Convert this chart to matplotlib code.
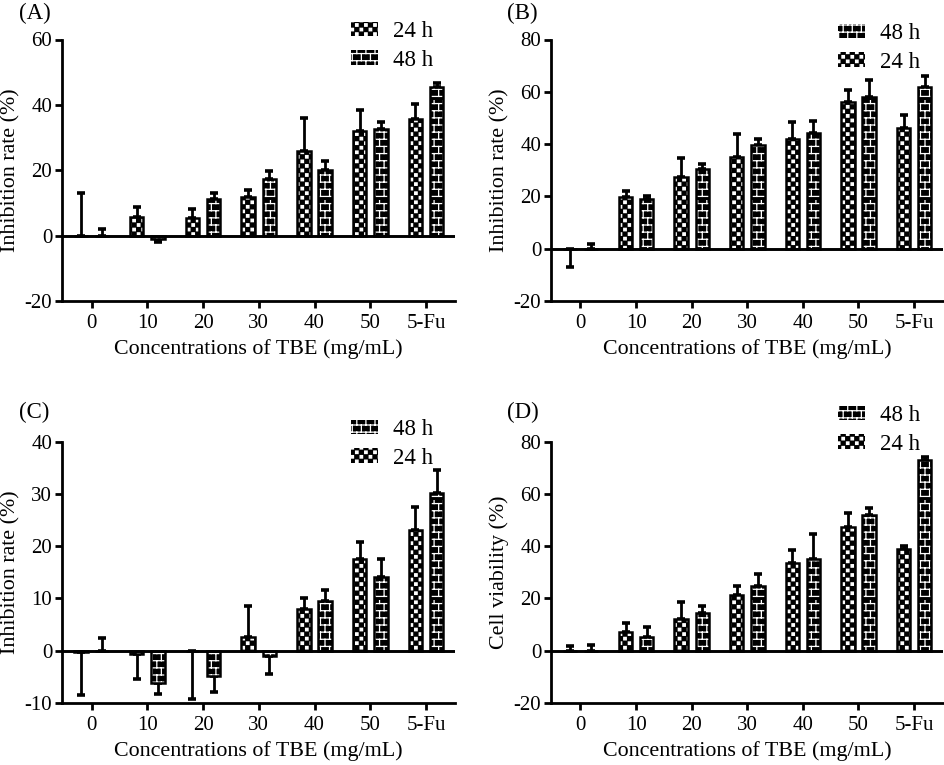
import warnings
warnings.filterwarnings('ignore')
import matplotlib
matplotlib.use('Agg')
import numpy as np
import matplotlib.pyplot as plt
import matplotlib.hatch as mhatch
from matplotlib.path import Path

# ---------------- data ----------------
categories = ['0', '10', '20', '30', '40', '50', '5-Fu']

A_24 = [0.0, 5.8, 5.5, 11.9, 26.0, 31.9, 35.6]
A_24_err = [12.9, 2.9, 2.7, 2.0, 10.0, 6.5, 4.6]
A_48 = [0.0, -1.1, 11.1, 17.2, 20.2, 32.5, 45.4]
A_48_err = [2.1, 0.7, 1.8, 2.6, 2.5, 2.3, 1.2]

B_24 = [-0.3, 19.6, 27.3, 35.2, 41.8, 56.2, 46.0]
B_24_err = [6.7, 2.4, 7.3, 8.7, 6.6, 4.6, 5.0]
B_48 = [0.0, 19.1, 30.4, 39.5, 44.3, 58.0, 61.8]
B_48_err = [1.9, 0.9, 1.8, 2.4, 4.4, 6.5, 4.4]

C_24 = [-0.2, -0.7, -0.1, 2.5, 8.0, 17.5, 23.1]
C_24_err = [8.3, 4.7, 9.2, 6.1, 2.0, 3.3, 4.3]
C_48 = [0.0, -6.3, -4.9, -1.1, 9.5, 14.1, 30.1]
C_48_err = [2.3, 2.1, 3.0, 3.4, 2.1, 3.4, 4.4]

D_24 = [0.0, 6.9, 12.1, 21.2, 33.6, 47.5, 38.8]
D_24_err = [1.9, 3.8, 6.3, 3.6, 4.8, 5.1, 1.4]
D_48 = [0.0, 5.2, 14.2, 24.6, 35.0, 52.0, 73.1]
D_48_err = [2.2, 3.9, 2.9, 4.6, 9.6, 2.7, 1.2]

series_labels = ['24 h', '48 h']
xlabel_text = 'Concentrations of TBE (mg/mL)'


# ---------------- custom hatches ----------------
class CheckerHatch(mhatch.HatchPatternBase):
    N = 22

    def __init__(self, hatch, density):
        self.on = 'C' in hatch
        n = self.N
        self.cells = [(i, j) for i in range(n) for j in range(n) if (i + j) % 2 == 0]
        self.num_vertices = 5 * len(self.cells) if self.on else 0
        self.filled = True

    def set_vertices_and_codes(self, vertices, codes):
        n = self.N
        s = 0.0125
        k = 0
        for (i, j) in self.cells:
            cx = (i + 0.5) / n
            cy = (j + 0.5) / n
            vertices[k:k + 5] = [(cx - s, cy - s), (cx + s, cy - s), (cx + s, cy + s),
                                 (cx - s, cy + s), (cx - s, cy - s)]
            codes[k:k + 5] = [Path.MOVETO, Path.LINETO, Path.LINETO, Path.LINETO, Path.CLOSEPOLY]
            k += 5


class BrickHatch(mhatch.HatchPatternBase):
    R = 14
    K = 11

    def __init__(self, hatch, density):
        self.on = 'B' in hatch
        self.num_vertices = (2 * self.R + 2 * self.R * self.K) if self.on else 0
        self.filled = False

    def set_vertices_and_codes(self, vertices, codes):
        R, K = self.R, self.K
        k = 0
        for r in range(R):
            y = (r + 0.5) / R
            vertices[k:k + 2] = [(0.0, y), (1.0, y)]
            codes[k:k + 2] = [Path.MOVETO, Path.LINETO]
            k += 2
        for r in range(R):
            y0 = (r + 0.5) / R
            y1 = (r + 1.5) / R
            for j in range(K):
                xx = (j + 0.25 + 0.5 * (r % 2)) / K
                vertices[k:k + 2] = [(xx, y0), (xx, y1)]
                codes[k:k + 2] = [Path.MOVETO, Path.LINETO]
                k += 2


mhatch._hatch_types.append(CheckerHatch)
mhatch._hatch_types.append(BrickHatch)

plt.rcParams['font.family'] = ['Liberation Serif', 'DejaVu Serif']
plt.rcParams['axes.unicode_minus'] = False
plt.rcParams['hatch.linewidth'] = 0.9

W, H = 945, 765
fig = plt.figure(figsize=(W / 100, H / 100), dpi=100)


def px_axes(left, top, right, bottom):
    return fig.add_axes([left / W, 1 - bottom / H, (right - left) / W, (bottom - top) / H])


def panel(ax, v24, e24, v48, e48, ylim, yticks, ylabel, order, letter, letter_xy, leg_xy):
    x = np.arange(len(categories))
    handles = {}
    for vals, errs, off, hatch, lab in [(v24, e24, -0.19, 'C', series_labels[0]),
                                        (v48, e48, 0.19, 'B', series_labels[1])]:
        vals = np.array(vals, dtype=float)
        errs = np.array(errs, dtype=float)
        b = ax.bar(x + off, vals, width=0.24, color='black', edgecolor='white',
                   linewidth=0, hatch=hatch, label=lab, zorder=2)
        ax.bar(x + off, vals, width=0.24, fill=False, edgecolor='black',
               linewidth=1.8, zorder=3)
        lower = np.where(vals < 0, errs, 0)
        upper = np.where(vals >= 0, errs, 0)
        ax.errorbar(x + off, vals, yerr=[lower, upper], fmt='none', ecolor='black',
                    elinewidth=2.0, capsize=2.9, capthick=2.6, zorder=1)
        handles[lab] = b
    ax.axhline(0, color='black', lw=2.1, zorder=4)
    ax.set_xlim(-0.53, 6.52)
    ax.set_ylim(*ylim)
    ax.set_yticks(yticks)
    ax.set_xticks(x)
    ax.set_xticklabels(categories)
    for s in ['top', 'right']:
        ax.spines[s].set_visible(False)
    for s in ['left', 'bottom']:
        ax.spines[s].set_linewidth(2.0)
    ax.tick_params(direction='out', length=5, width=2.0, labelsize=15)
    ax.tick_params(axis='y', pad=2)
    ax.tick_params(axis='x', pad=4.5)
    ax.set_ylabel(ylabel, fontsize=15.8, labelpad=3)
    ax.set_xlabel(xlabel_text, fontsize=15.8, labelpad=4.5)
    fig.text(letter_xy[0] / W, 1 - letter_xy[1] / H, letter, fontsize=16.5,
             ha='left', va='center')
    ax.legend([handles[o] for o in order], order, loc='upper left',
              bbox_to_anchor=(leg_xy[0] / W, 1 - leg_xy[1] / H),
              bbox_transform=fig.transFigure, frameon=False, fontsize=16.5,
              handlelength=1.2, handleheight=0.6, handletextpad=0.65,
              labelspacing=0.33, borderpad=0, borderaxespad=0)


axA = px_axes(62, 39.5, 455, 301)
axB = px_axes(551, 39.5, 943, 301)
axC = px_axes(62, 441.7, 455, 702.7)
axD = px_axes(551, 441.7, 943, 702.7)

panel(axA, A_24, A_24_err, A_48, A_48_err, (-20, 60), [-20, 0, 20, 40, 60],
      'Inhibition rate (%)', ['24 h', '48 h'], '(A)', (19, 13), (351, 21))
panel(axB, B_24, B_24_err, B_48, B_48_err, (-20, 80), [-20, 0, 20, 40, 60, 80],
      'Inhibition rate (%)', ['48 h', '24 h'], '(B)', (507, 13), (838, 23))
panel(axC, C_24, C_24_err, C_48, C_48_err, (-10, 40), [-10, 0, 10, 20, 30, 40],
      'Inhibition rate (%)', ['48 h', '24 h'], '(C)', (19, 412), (351, 419))
panel(axD, D_24, D_24_err, D_48, D_48_err, (-20, 80), [-20, 0, 20, 40, 60, 80],
      'Cell viability (%)', ['48 h', '24 h'], '(D)', (507, 412), (838, 405))

fig.savefig('out.png', dpi=100)
